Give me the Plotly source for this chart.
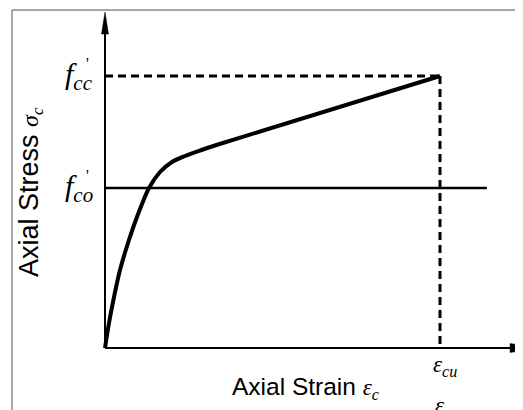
import plotly.graph_objects as go

# ---- data (normalised: strain / eps_cu, stress / f'cc) ----
strain = [0.0, 0.0119, 0.0269, 0.0448, 0.0687, 0.0955, 0.1313, 0.1642, 0.2000, 0.2388, 0.2836, 0.3373, 1.0]
stress = [0.0, 0.0919, 0.1875, 0.2868, 0.3860, 0.4816, 0.5882, 0.6471, 0.6838, 0.7059, 0.7261, 0.7482, 1.0]
f_co = 0.588
f_cc = 1.0
eps_cu = 1.0
x_axis_end = 1.209
y_axis_end = 1.154
f_co_line_end = 1.14

# page body has an 8px margin: figure sits at (8, 8) in the 523x410 window
OFF = 8
WIN_W, WIN_H = 523, 410
W, H = WIN_W - OFF, WIN_H - OFF
X0_PX, Y0_PX = 105 - OFF, 348 - OFF      # data origin in figure pixels
SX, SY = 335.0, 272.0                     # pixels per data unit
xr = [-X0_PX / SX, (W - X0_PX) / SX]
yr = [-(H - Y0_PX) / SY, Y0_PX / SY]


def px(dx):
    return dx / SX


def py(dy):
    return dy / SY


def wx(x_win):
    return (x_win - 105) / SX


def wy(y_win):
    return (348 - y_win) / SY


fig = go.Figure()

fig.add_trace(go.Scatter(
    x=strain, y=stress, mode="lines",
    line=dict(color="black", width=4, shape="spline", smoothing=0.8),
    hoverinfo="skip", showlegend=False))

shapes = []
# axes
shapes.append(dict(type="line", xref="x", yref="y", x0=0, y0=0, x1=x_axis_end, y1=0,
                   line=dict(color="black", width=2)))
shapes.append(dict(type="line", xref="x", yref="y", x0=0, y0=0, x1=0, y1=y_axis_end,
                   line=dict(color="black", width=2)))
# arrowheads
ty = y_axis_end + py(22)
shapes.append(dict(type="path", xref="x", yref="y",
                   path=f"M {-px(3.5)},{y_axis_end} L {px(3.5)},{y_axis_end} L 0,{ty} Z",
                   fillcolor="black", line=dict(color="black", width=0.5)))
tx = x_axis_end + px(30)
shapes.append(dict(type="path", xref="x", yref="y",
                   path=f"M {x_axis_end},{-py(4.5)} L {x_axis_end},{py(4.5)} L {tx},0 Z",
                   fillcolor="black", line=dict(color="black", width=0.5)))
# f'co horizontal line
shapes.append(dict(type="line", xref="x", yref="y", x0=0, y0=f_co, x1=f_co_line_end, y1=f_co,
                   line=dict(color="black", width=2.5)))
# dashed f'cc and eps_cu
shapes.append(dict(type="line", xref="x", yref="y", x0=0, y0=f_cc, x1=eps_cu, y1=f_cc,
                   line=dict(color="black", width=3, dash="8px,5px")))
shapes.append(dict(type="line", xref="x", yref="y", x0=eps_cu, y0=f_cc, x1=eps_cu, y1=0,
                   line=dict(color="black", width=3, dash="8px,5px")))
# frame (top and left)
fx0 = (12 - OFF) / W
fy0 = 1 - (10 - OFF) / H
shapes.append(dict(type="line", xref="paper", yref="paper", x0=fx0, y0=fy0, x1=1, y1=fy0,
                   line=dict(color="#8a8a8a", width=1.5)))
shapes.append(dict(type="line", xref="paper", yref="paper", x0=fx0, y0=fy0, x1=fx0, y1=0,
                   line=dict(color="#555555", width=1)))

SERIF = "Liberation Serif"
SANS = "Liberation Sans"

annotations = [
    dict(x=wx(79), y=f_cc, xref="x", yref="y", showarrow=False, xanchor="center", yanchor="middle",
         text="<i>f</i><sub><i>cc</i></sub>", font=dict(family=SERIF, size=30, color="black")),
    dict(x=wx(87), y=wy(63), xref="x", yref="y", showarrow=False, xanchor="center", yanchor="middle",
         text="'", font=dict(family=SERIF, size=16, color="black")),
    dict(x=wx(79), y=f_co, xref="x", yref="y", showarrow=False, xanchor="center", yanchor="middle",
         text="<i>f</i><sub><i>co</i></sub>", font=dict(family=SERIF, size=30, color="black")),
    dict(x=wx(87), y=wy(175), xref="x", yref="y", showarrow=False, xanchor="center", yanchor="middle",
         text="'", font=dict(family=SERIF, size=16, color="black")),
    dict(x=wx(445), y=wy(366), xref="x", yref="y", showarrow=False, xanchor="center", yanchor="middle",
         text="<i>ε</i><sub><i>cu</i></sub>", font=dict(family=SERIF, size=23, color="black")),
    dict(x=wx(440), y=wy(391), xref="x", yref="y", showarrow=False, xanchor="center", yanchor="top",
         text="<i>ε</i>", font=dict(family=SERIF, size=23, color="black")),
    dict(x=wx(305), y=wy(388), xref="x", yref="y", showarrow=False, xanchor="center", yanchor="middle",
         text="Axial Strain <span style='font-family:Liberation Serif;font-size:23px'><i>ε</i><sub><i>c</i></sub></span>",
         font=dict(family=SANS, size=24.5, color="black")),
    dict(x=wx(30), y=wy(192), xref="x", yref="y", showarrow=False, xanchor="center", yanchor="middle",
         textangle=-90,
         text="Axial Stress <span style='font-family:Liberation Serif;font-size:24px'><i>σ</i><sub><i>c</i></sub></span>",
         font=dict(family=SANS, size=27, color="black")),
]

fig.update_layout(
    width=W, height=H,
    margin=dict(l=0, r=0, t=0, b=0, pad=0),
    paper_bgcolor="white", plot_bgcolor="white",
    xaxis=dict(range=xr, visible=False, fixedrange=True),
    yaxis=dict(range=yr, visible=False, fixedrange=True),
    shapes=shapes, annotations=annotations,
    showlegend=False,
)

fig.write_html("out.html")
